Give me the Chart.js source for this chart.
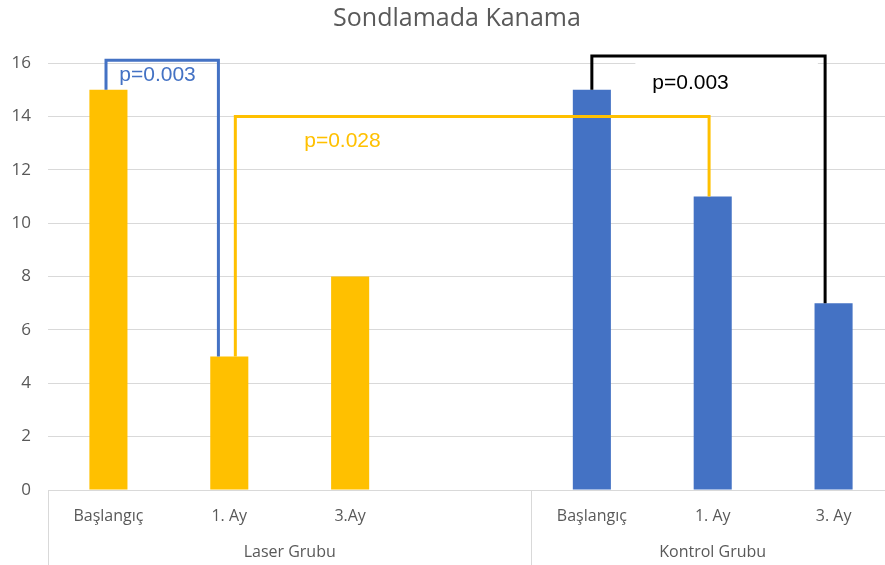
<!DOCTYPE html>
<html>
<head>
<meta charset="utf-8">
<script src="https://cdn.jsdelivr.net/npm/chart.js@4"></script>
<style>
  html, body { margin: 0; padding: 0; background: #fff; overflow: hidden; }
  #wrap { width: 964px; height: 565px; }
</style>
</head>
<body>
<div id="wrap"><canvas id="myChart"></canvas></div>
<script>
'use strict';

// ***** DATA *****
const titleText = 'Sondlamada Kanama';
const categories = ['Başlangıç', '1. Ay', '3.Ay', '', 'Başlangıç', '1. Ay', '3. Ay'];
const values = [15, 5, 8, null, 15, 11, 7];
const barColors = ['#FFC000', '#FFC000', '#FFC000', '#FFC000', '#4472C4', '#4472C4', '#4472C4'];
const groupNames = ['Laser Grubu', 'Kontrol Grubu'];
const groupFirst = [0, 4];
const groupLast = [3, 6];
const yMax = 16;
const yStep = 2;

// significance brackets: x in category index units, y in data units
const pLabels = ['p=0.003', 'p=0.028', 'p=0.003'];
const pColors = ['#4472C4', '#FFC000', '#000000'];
const pStartX = [-0.02, 1.05, 4];
const pStartY = [15, 5, 15];
const pEndX = [0.91, 4.97, 5.93];
const pEndY = [5, 11, 7];
const pTopY = [16.1, 14.0, 16.26];
const pTextX = [0.09, 1.62, 4.5];
const pTextY = [15.55, 13.07, 15.24];
// white label box behind the black p label
const boxX = [4.36, 5.87];
const boxY = [16.15, 14.6];

const gray = '#595959';
const lineGray = '#d9d9d9';

// ***** PLUGIN *****
const extras = {
  id: 'extras',
  afterDraw(chart) {
    const c = chart.ctx;
    const xs = chart.scales.x;
    const ys = chart.scales.y;
    const area = chart.chartArea;
    const bottom = chart.height;

    // title (the original chart was a bit wider, so it sits left of plot centre)
    c.save();
    c.font = '25px "Open Sans"';
    c.fillStyle = gray;
    c.textAlign = 'center';
    c.textBaseline = 'middle';
    c.fillText(titleText, (area.left + area.right) / 2 - 14, 19);
    c.restore();

    // group separators and labels
    c.save();
    c.strokeStyle = lineGray;
    c.lineWidth = 1;
    c.font = '16px "Open Sans"';
    c.fillStyle = gray;
    c.textAlign = 'center';
    c.textBaseline = 'middle';
    for (let i = 0; i < groupNames.length; i++) {
      let left = xs.getPixelForValue(groupFirst[i] - 0.5);
      let right = xs.getPixelForValue(groupLast[i] + 0.5);
      c.beginPath();
      c.moveTo(Math.round(left) + 0.5, area.bottom);
      c.lineTo(Math.round(left) + 0.5, bottom);
      c.stroke();
      c.fillText(groupNames[i], (left + right) / 2, area.bottom + 62);
    }
    c.restore();

    // label box
    c.save();
    c.fillStyle = '#ffffff';
    let bx1 = xs.getPixelForValue(boxX[0]);
    let bx2 = xs.getPixelForValue(boxX[1]);
    let by1 = ys.getPixelForValue(boxY[0]);
    let by2 = ys.getPixelForValue(boxY[1]);
    c.fillRect(bx1, by1, bx2 - bx1, by2 - by1);
    c.restore();

    // brackets
    c.save();
    c.lineWidth = 3;
    c.lineJoin = 'miter';
    for (let i = 0; i < pLabels.length; i++) {
      let x1 = xs.getPixelForValue(pStartX[i]);
      let x2 = xs.getPixelForValue(pEndX[i]);
      let yTop = ys.getPixelForValue(pTopY[i]);
      c.strokeStyle = pColors[i];
      c.beginPath();
      c.moveTo(x1, ys.getPixelForValue(pStartY[i]));
      c.lineTo(x1, yTop);
      c.lineTo(x2, yTop);
      c.lineTo(x2, ys.getPixelForValue(pEndY[i]));
      c.stroke();
    }
    c.restore();

    // p labels
    c.save();
    c.font = '21px "Liberation Sans"';
    c.textAlign = 'left';
    c.textBaseline = 'middle';
    for (let i = 0; i < pLabels.length; i++) {
      c.fillStyle = pColors[i];
      c.fillText(pLabels[i], xs.getPixelForValue(pTextX[i]), ys.getPixelForValue(pTextY[i]));
    }
    c.restore();
  }
};

// ***** CHART *****
let ctx = document.getElementById('myChart');
new Chart(ctx, {
  type: 'bar',
  data: {
    labels: categories,
    datasets: [{
      data: values,
      backgroundColor: barColors,
      borderWidth: 0,
      barPercentage: 0.315,
      categoryPercentage: 1
    }]
  },
  options: {
    responsive: true,
    maintainAspectRatio: false,
    animation: false,
    layout: { padding: { left: 0, right: 70, top: 63, bottom: 0 } },
    plugins: {
      legend: { display: false },
      tooltip: { enabled: false },
      title: { display: false }
    },
    scales: {
      x: {
        grid: { display: false, drawTicks: false },
        border: { display: true, color: lineGray, width: 1 },
        ticks: {
          color: gray,
          font: { family: '"Open Sans"', size: 16 },
          padding: 17,
          maxRotation: 0,
          autoSkip: false
        },
        afterFit(scale) { scale.height = 75; }
      },
      y: {
        min: 0,
        max: yMax,
        ticks: {
          stepSize: yStep,
          color: gray,
          font: { family: '"Open Sans"', size: 17 },
          padding: 17
        },
        grid: { color: lineGray, drawTicks: false },
        border: { display: false },
        afterFit(scale) { scale.width = 48; }
      }
    }
  },
  plugins: [extras]
});
</script>
</body>
</html>
